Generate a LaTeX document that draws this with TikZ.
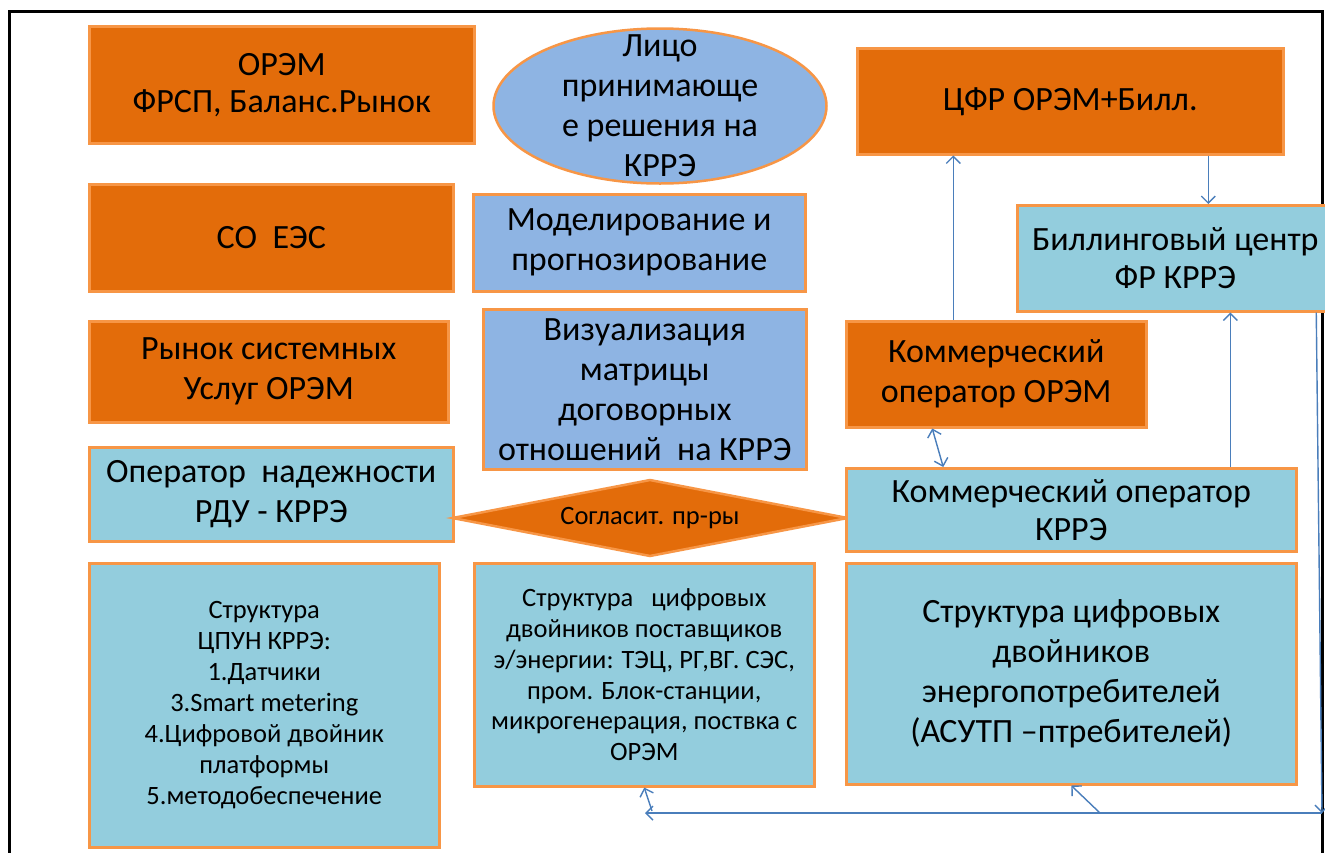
\documentclass[tikz,border=0pt]{standalone}
\usepackage{fontspec}
\setmainfont{Carlito}
\usetikzlibrary{shapes.geometric,arrows.meta}
\definecolor{orfill}{RGB}{227,108,10}
\definecolor{orline}{RGB}{247,150,70}
\definecolor{lbfill}{RGB}{142,180,227}
\definecolor{tlfill}{RGB}{147,205,221}
\definecolor{conncol}{RGB}{74,126,187}
\begin{document}
\begin{tikzpicture}[x=1pt,y=-1pt,
  base/.style={draw=orline,line width=2.5pt,rectangle,inner sep=0pt,align=center,anchor=north west,text=black},
  orbox/.style={base,fill=orfill},
  lbbox/.style={base,fill=lbfill},
  tlbox/.style={base,fill=tlfill},
  bigtxt/.style={font=\fontsize{34}{40}\selectfont},
  conn/.style={draw=conncol,line width=1.4pt},
  tip/.style={-{Straight Barb[length=7pt,width=14pt]}},
  tips/.style={{Straight Barb[length=7pt,width=14pt]}-{Straight Barb[length=7pt,width=14pt]}}
]
\useasboundingbox (0,0) rectangle (1325,852);
\clip (0,0) rectangle (1325,852);
\fill[white] (0,0) rectangle (1325,852);
\draw[black,line width=3pt] (9,11.5) rectangle (1322.5,900);

\node[orbox,minimum width=385,minimum height=117,font=\fontsize{34}{37}\selectfont] (orem) at (88,25) {ОРЭМ\\ФРСП, Баланс.Рынок};
\node[ellipse,draw=orline,fill=lbfill,line width=2.5pt,minimum width=333,minimum height=155,inner sep=0pt] (face) at (660,106) {};
\node[bigtxt,align=center,inner sep=0pt] (facetxt) at (face.center) {Лицо\\принимающе\\е решения на\\КРРЭ};
\node[orbox,bigtxt,minimum width=426,minimum height=106] (cfr) at (856,47) {ЦФР ОРЭМ+Билл.};

\node[orbox,bigtxt,minimum width=364,minimum height=107] (so) at (88,183) {СО\ \ ЕЭС};
\node[lbbox,bigtxt,minimum width=332,minimum height=97] (model) at (472,193) {Моделирование и\\прогнозирование};
\node[tlbox,minimum width=316,minimum height=106,font=\fontsize{34}{38}\selectfont] (bill) at (1016,204) {Биллинговый центр\\ФР КРРЭ};

\node[orbox,bigtxt,minimum width=359,minimum height=101] (rsu) at (88,320) {Рынок системных\\Услуг ОРЭМ};
\node[lbbox,bigtxt,minimum width=323,minimum height=160] (viz) at (482,308) {Визуализация\\матрицы\\договорных\\отношений\ \ на КРРЭ};
\node[orbox,bigtxt,minimum width=300,minimum height=106] (koorem) at (845,320) {Коммерческий\\оператор ОРЭМ};

\node[tlbox,bigtxt,minimum width=364,minimum height=94] (onrdu) at (88,446) {Оператор\ \ надежности\\РДУ - КРРЭ};
\node[diamond,aspect=5.14,draw=orline,fill=orfill,line width=2.5pt,minimum width=396,minimum height=77,inner sep=0pt,font=\fontsize{26.5}{28}\selectfont] (soglas) at (650,518) {Согласит. пр-ры};
\node[tlbox,minimum width=450,minimum height=83,font=\fontsize{34}{38}\selectfont] (kokrre) at (845,467) {Коммерческий оператор\\КРРЭ};

\node[tlbox,minimum width=350,minimum height=284,font=\fontsize{26.5}{31}\selectfont] (cpun) at (88,562) {Структура\\ЦПУН КРРЭ:\\1.Датчики\\3.Smart metering\\4.Цифровой двойник\\платформы\\5.методобеспечение};
\node[tlbox,minimum width=340,minimum height=223,font=\fontsize{26.5}{30.8}\selectfont] (supp) at (473,562) {Структура\ \ \ цифровых\\двойников поставщиков\\э/энергии: ТЭЦ, РГ,ВГ. СЭС,\\пром. Блок-станции,\\микрогенерация, поствка с\\ОРЭМ};
\node[tlbox,minimum width=450,minimum height=221,font=\fontsize{34}{40}\selectfont] (cons) at (845,562) {Структура цифровых\\двойников\\энергопотребителей\\(АСУТП –птребителей)};

\coordinate (corner) at (1322,813);
\coordinate (lend) at (645,813);
\coordinate (suppfoot) at (652,811);
\coordinate (consfoot) at (1100,813);

\draw[conn,tip] ([xshift=-43pt]koorem.north) -- ([xshift=-43pt]koorem.north |- cfr.south);
\draw[conn,tip] ([xshift=138pt]cfr.south) -- ([xshift=138pt]cfr.south |- bill.north);
\draw[conn,tip] ([xshift=159pt]kokrre.north) -- ([xshift=159pt]kokrre.north |- bill.south);
\draw[conn,tips] ([xshift=-64pt]koorem.south) -- ([xshift=-128pt]kokrre.north);
\draw[conn,tip] ([xshift=141pt]bill.south) -- (corner);
\draw[conn,tip] (corner) -- (lend);
\draw[conn,tip] (suppfoot) -- (supp.south);
\draw[conn,tip] (consfoot) -- (cons.south);
\end{tikzpicture}
\end{document}
